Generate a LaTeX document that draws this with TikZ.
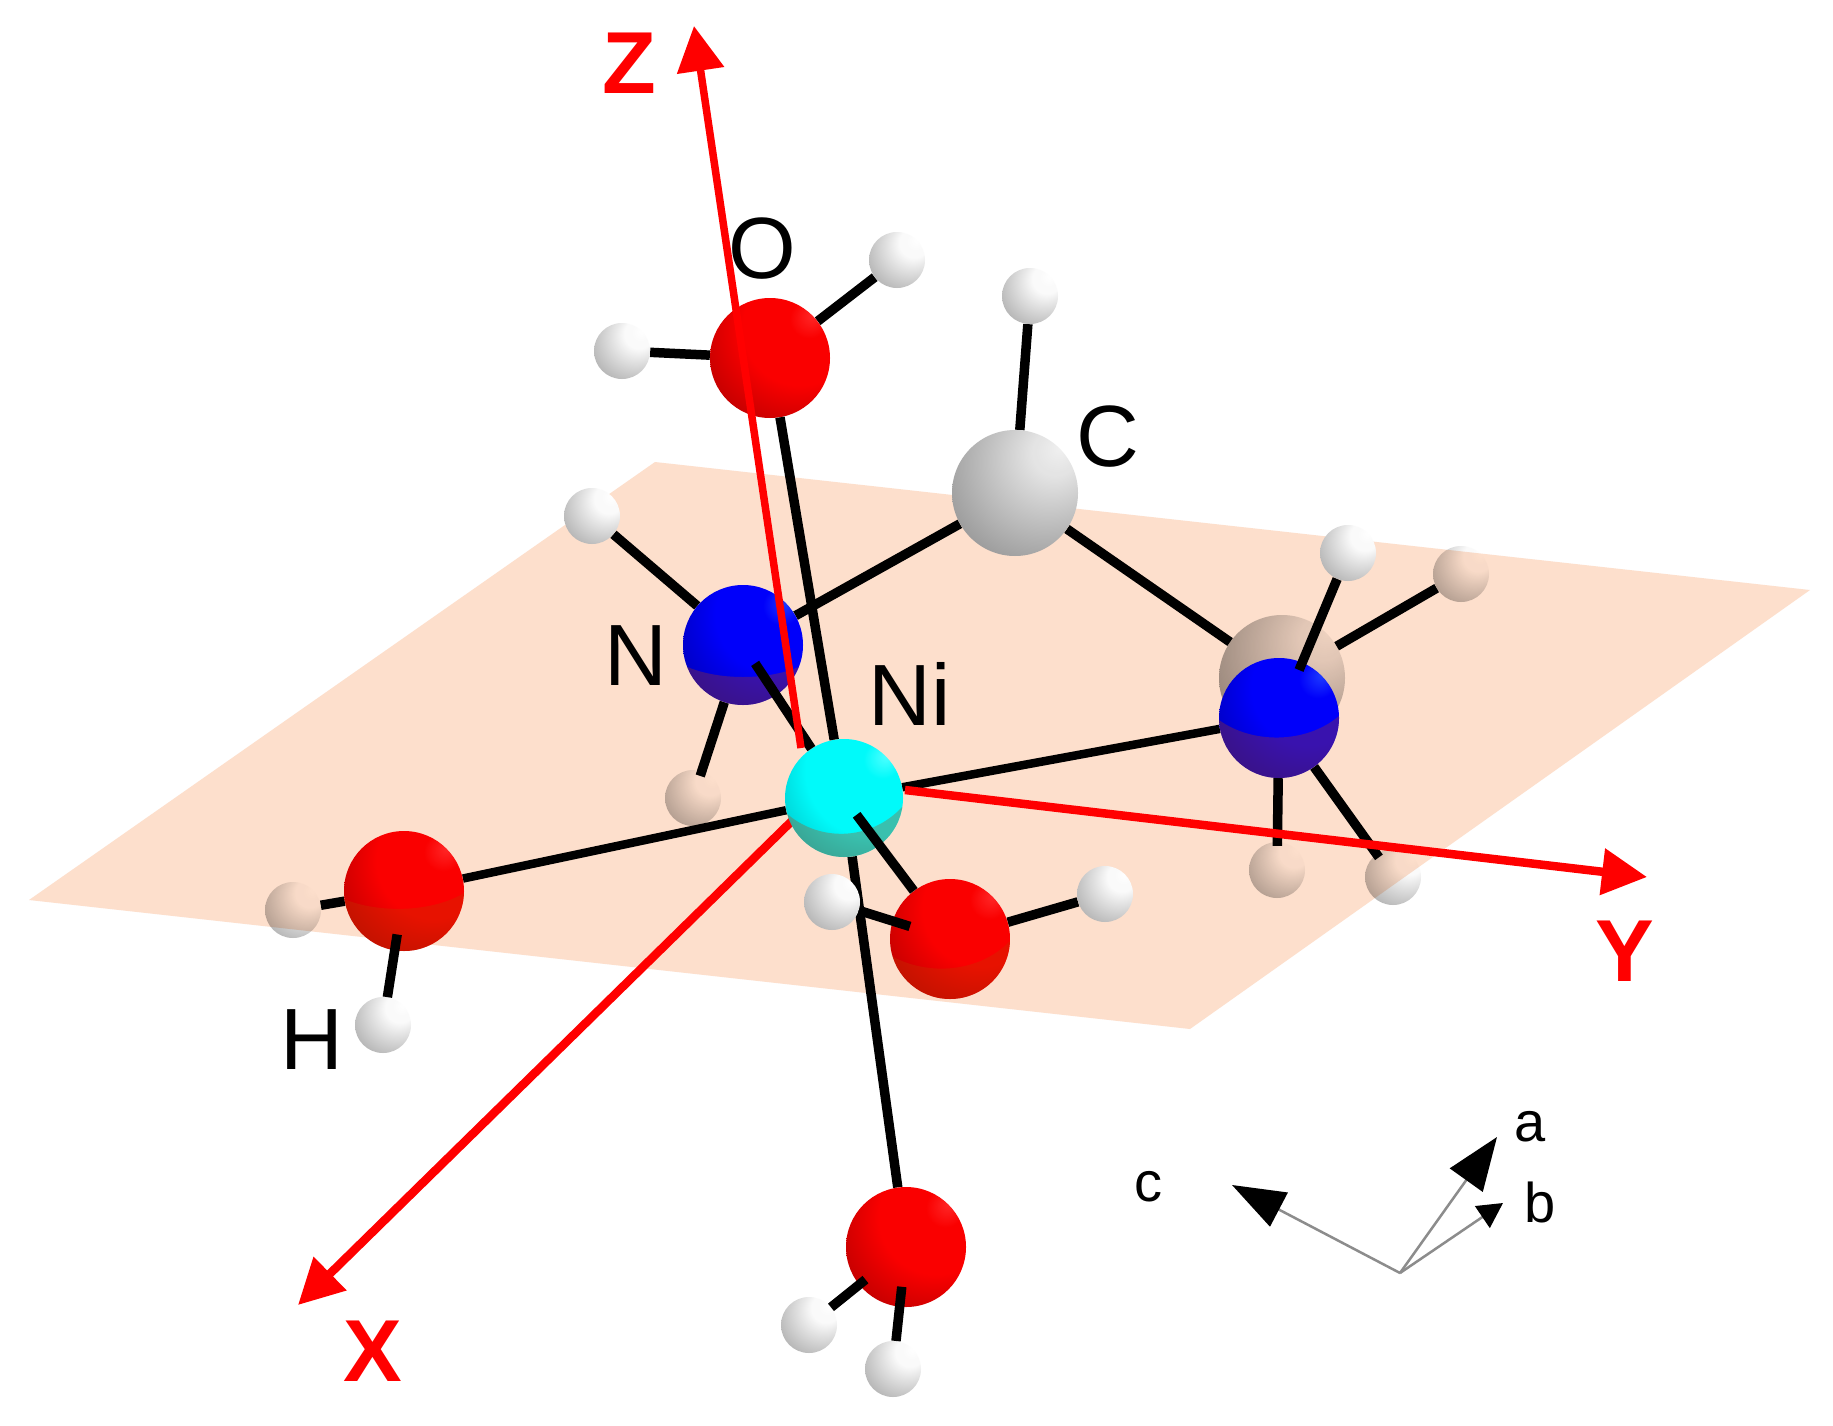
\documentclass[tikz,border=0pt]{standalone}
\usepackage{fontspec}
\setmainfont{Liberation Sans}
\usetikzlibrary{arrows.meta}
\pgfdeclarelayer{paper}
\pgfdeclarelayer{under}
\pgfdeclarelayer{planelayer}
\pgfdeclarelayer{bonds}
\pgfdeclarelayer{axes}
\pgfdeclarelayer{bands}
\pgfdeclarelayer{above}
\pgfsetlayers{paper,under,planelayer,bonds,axes,main,bands,above}
\definecolor{planecol}{RGB}{253,223,204}
\definecolor{axisred}{RGB}{255,0,0}
\definecolor{tintcol}{RGB}{190,60,0}
\newcommand{\mkball}[5]{\pgfdeclareradialshading{#1}{\pgfpoint{18bp}{18bp}}{color(0bp)=(#2); color(8bp)=(#3); color(#5bp)=(#3); color(68bp)=(#4); color(80bp)=(#4)}}
\definecolor{bh}{RGB}{30,60,255}\definecolor{bm}{RGB}{0,0,250}\definecolor{bd}{RGB}{0,0,90}
\definecolor{ch}{RGB}{80,255,255}\definecolor{cm}{RGB}{0,250,250}\definecolor{cd}{RGB}{0,110,120}
\definecolor{rh}{RGB}{255,40,40}\definecolor{rm}{RGB}{250,0,0}\definecolor{rd}{RGB}{95,0,0}
\definecolor{wh}{RGB}{255,255,255}\definecolor{wm}{RGB}{250,250,250}\definecolor{wd}{RGB}{105,105,105}
\definecolor{gh}{RGB}{240,240,240}\definecolor{gm}{RGB}{228,228,228}\definecolor{gd}{RGB}{85,85,85}
\mkball{ballblue}{bh}{bm}{bd}{24}
\mkball{ballcyan}{ch}{cm}{cd}{28}
\mkball{ballred}{rh}{rm}{rd}{24}
\mkball{ballwhite}{wh}{wm}{wd}{13}
\mkball{ballgrey}{gh}{gm}{gd}{9}
\tikzset{
  atomH/.style={circle,inner sep=0pt,minimum size=56pt,shade,shading=ballwhite},
  atomO/.style={circle,inner sep=0pt,minimum size=120pt,shade,shading=ballred},
  atomN/.style={circle,inner sep=0pt,minimum size=120pt,shade,shading=ballblue},
  atomNi/.style={circle,inner sep=0pt,minimum size=118pt,shade,shading=ballcyan},
  atomC/.style={circle,inner sep=0pt,minimum size=126pt,shade,shading=ballgrey},
  bond/.style={line width=9.5pt,black},
  longbond/.style={line width=8.5pt,black},
  xaxis/.style={line width=8.5pt,axisred,-{Triangle[length=45pt,width=45pt]}},
  zaxis/.style={line width=7.5pt,axisred,-{Triangle[length=45pt,width=46pt]}},
  cellaxis/.style={line width=2.5pt,black!45},
  elem/.style={black,font=\fontsize{87}{87}\selectfont,inner sep=0pt},
  axlab/.style={axisred,font=\fontsize{88}{88}\selectfont\bfseries,inner sep=0pt},
  celllab/.style={black,font=\fontsize{56}{56}\selectfont,inner sep=0pt},
}
\newcommand{\band}[6]{%
  \begin{scope}[shift={(#1.center)}]
    \clip (0,0) circle (#2);
    \fill[tintcol,opacity=.3] (-#2,#3) .. controls (-#2*.45,#4) and (#2*.45,#4) .. (#2,#5)
       -- (#2,#2) -- (-#2,#2) -- cycle;
  \end{scope}}
\begin{document}
\begin{tikzpicture}[x=1pt,y=-1pt]
\useasboundingbox (0,0) rectangle (1833,1426);
\begin{pgfonlayer}{paper}
  \fill[white] (0,0) rectangle (1833,1426);
\end{pgfonlayer}

% atoms below the plane
\begin{pgfonlayer}{under}
  \node[atomC] (c2) at (1282,678) {};
  \node[atomH] (hl) at (693,798) {};
  \node[atomH] (hc) at (1461,574) {};
  \node[atomH] (hd) at (1277,870) {};
  \node[atomH] (he) at (1393,877) {};
  \node[atomH] (hf) at (293,910) {};
\end{pgfonlayer}

% plane
\begin{pgfonlayer}{planelayer}
  \fill[planecol,blend mode=multiply] (655,462) -- (1810,590) -- (1190,1029) -- (29,900) -- cycle;
\end{pgfonlayer}

% atoms
\node[atomN] (n1) at (743,645) {};
\node[atomN] (n2) at (1279,718) {};
\node[atomC] (c1) at (1015,493) {};
\node[atomO] (ot) at (770,358) {};
\node[atomO] (ol) at (404,891) {};
\node[atomO] (of) at (950,939) {};
\node[atomO] (ob) at (906,1247) {};
\node[atomNi] (ni) at (844,798) {};
\node[atomH] (h1) at (897,260) {};
\node[atomH] (h2) at (622,351) {};
\node[atomH] (h3) at (1030,296) {};
\node[atomH] (h4) at (592,516) {};
\node[atomH] (h5) at (1348,553) {};
\node[atomH] (h6) at (383,1025) {};
\node[atomH] (h7) at (832,902) {};
\node[atomH] (h8) at (1105,894) {};
\node[atomH] (h9) at (809,1325) {};
\node[atomH] (h10) at (893,1369) {};

% bonds behind the atoms
\begin{pgfonlayer}{bonds}
  \draw[bond] (c1) -- (c2);
  \draw[bond] (c1) -- (n1);
  \draw[bond] (c1) -- (h3);
  \draw[bond] (c2) -- (hc);
  \draw[bond] (n1) -- (h4);
  \draw[bond,shorten >=-5pt] (n1) -- (hl);
  \draw[longbond] (ni) -- (ol);
  \draw[longbond] (ni) -- (n2);
  \draw[bond] (ni) -- (ob);
  \draw[bond] (ot) -- (h1);
  \draw[bond] (ot) -- (h2);
  \draw[bond] (ol) -- (hf);
  \draw[bond] (of) -- (h8);
  \draw[bond,shorten >=-4pt] (n2) -- (hd);
  \draw[bond,shorten >=-4pt] (n2) -- (he);
\end{pgfonlayer}

% X and Y axes
\coordinate (ox) at (800,813);
\coordinate (oy) at (905,790);
\coordinate (oz) at (801,748);
\coordinate (tx) at (298,1305);
\coordinate (ty) at (1647,877);
\coordinate (tz) at (694,26);
\begin{pgfonlayer}{axes}
  \draw[xaxis] (ox) -- (tx);
  \draw[xaxis] (oy) -- (ty);
\end{pgfonlayer}

% darker lower part of the atoms cut by the plane
\begin{pgfonlayer}{bands}
  \band{n1}{60}{20}{36}{20}{}
  \band{n2}{60}{2}{26}{-2}{}
  \band{ni}{59}{14}{44}{8}{}
  \band{of}{60}{16}{36}{2}{}
  \band{ol}{60}{8}{22}{2}{}
\end{pgfonlayer}

% bonds in front of the atoms, Z axis and labels
\begin{pgfonlayer}{above}
  \draw[bond] (ot) -- (ni);
  \draw[bond,shorten <=22pt] (n1.center) -- (ni);
  \draw[bond,shorten <=21pt] (ni.center) -- (of);
  \draw[bond,shorten <=42pt] (of.center) -- (h7);
  \draw[bond,shorten <=44pt] (ol.center) -- (h6);
  \draw[bond,shorten <=52pt] (n2.center) -- (h5);
  \draw[bond,shorten <=52pt] (ob.center) -- (h9);
  \draw[bond,shorten <=40pt] (ob.center) -- (h10);
  \draw[zaxis] (oz) -- (tz);

  \node[elem] (lo) at (762,249) {O};
  \node[elem] (lc) at (1108,437) {C};
  \node[elem] (ln) at (636,656) {N};
  \node[elem] (lni) at (910,694) {Ni};
  \node[elem] (lh) at (312,1040) {H};
  \node[axlab] (lz) at (629,63) {Z};
  \node[axlab] (ly) at (1625,951) {Y};
  \node[axlab] (lx) at (373,1351) {X};

  \coordinate (co) at (1400,1273);
  \coordinate (ca) at (1497,1137);
  \coordinate (cb) at (1503,1203);
  \coordinate (cc) at (1232,1185);
  \draw[cellaxis,-{Triangle[length=53pt,width=38pt,black]}] (co) -- (cc);
  \draw[cellaxis,-{Triangle[length=53pt,width=40pt,black]}] (co) -- (ca);
  \draw[cellaxis,-{Triangle[length=25pt,width=26pt,black]}] (co) -- (cb);
  \node[celllab] (la) at (1530,1127) {a};
  \node[celllab] (lb) at (1540,1202) {b};
  \node[celllab] (lcc) at (1148,1187) {c};
\end{pgfonlayer}
\end{tikzpicture}
\end{document}
